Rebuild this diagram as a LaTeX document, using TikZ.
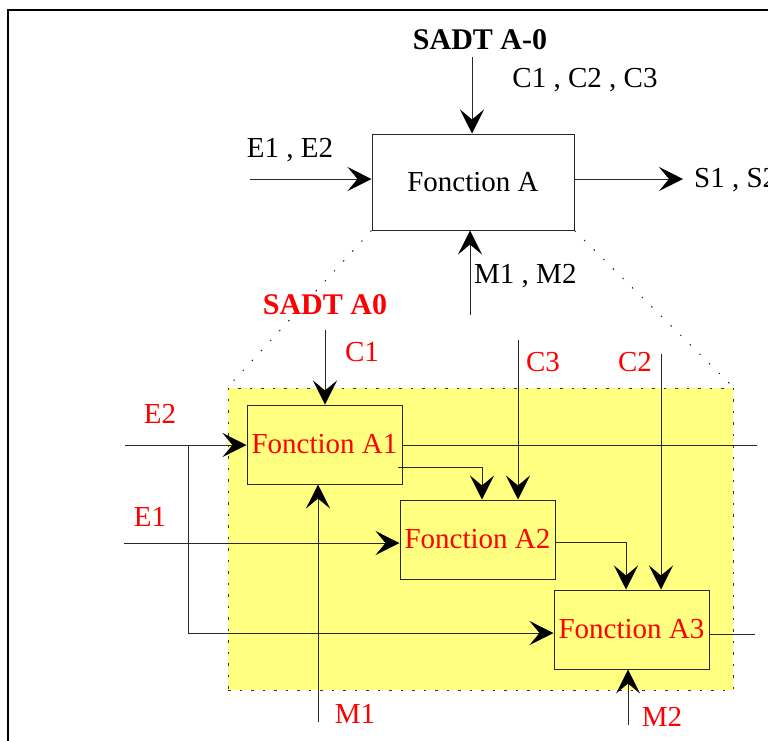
\documentclass[tikz,border=0pt]{standalone}
\usepackage{fontspec}
\setmainfont{Liberation Serif}
\usetikzlibrary{arrows.meta}
\definecolor{padyellow}{RGB}{255,255,128}
\definecolor{linegrey}{RGB}{40,40,40}
\begin{document}
\begin{tikzpicture}[x=1pt,y=-1pt,
  every node/.style={font=\fontsize{29}{31}\selectfont, inner sep=0pt},
  fbox/.style={draw=linegrey, line width=1pt, rectangle},
  bigbox/.style={fbox, minimum width=202pt, minimum height=96pt},
  subbox/.style={fbox, minimum width=155pt, minimum height=79pt, text=red},
  conn/.style={draw=linegrey, line width=1pt},
  arr/.style={conn, -{Stealth[length=24pt,width=24pt,inset=10pt,black]}},
  rlbl/.style={text=red},
  zoomline/.style={draw=black, line width=0.8pt, dash pattern=on 1.5pt off 12pt},
  pad/.style={fill=padyellow, draw=black!80, line width=1pt, dash pattern=on 2.5pt off 9pt, rectangle, minimum width=505pt, minimum height=302pt}]
\useasboundingbox (0,0) rectangle (768,740);

% outer frame
\draw[line width=2pt] (8,745) -- (8,10) -- (775,10);

% yellow detail area
\node[pad] (Y) at (480.5,539) {};

% top level
\node[bigbox] (A) at (473,182) {Fonction A};
\node[font=\fontsize{30}{32}\selectfont\bfseries] (t0) at (480,40) {SADT A-0};
\coordinate (cin) at (472,57);
\coordinate (ein) at (250,179);
\coordinate (sout) at (683,179);
\coordinate (min) at (470,315);
\draw[arr] (cin) -- (cin |- A.north);
\draw[arr] (ein) -- (ein -| A.west);
\draw[arr] (sout -| A.east) -- (sout);
\draw[arr] (min) -- (min |- A.south);
\node (lc) at (585,80) {C1 , C2 , C3};
\node (le) at (290,150) {E1 , E2};
\node[anchor=west] (ls) at (694,180) {S1 , S2};
\node[anchor=west] (lm) at (474,276) {M1 , M2};

% zoom lines
\draw[zoomline] (A.south west) -- (Y.north west);
\draw[zoomline] (A.south east) -- (Y.north east);

% detail level
\node[font=\fontsize{30}{32}\selectfont\bfseries, rlbl] (t1) at (325,305) {SADT A0};
\node[subbox] (A1) at (324.5,444.5) {Fonction A1};
\node[subbox] (A2) at (477.5,539.5) {Fonction A2};
\node[subbox] (A3) at (631.5,629.5) {Fonction A3};

\coordinate (c1) at (325,330);
\coordinate (c3) at (518,340);
\coordinate (c2) at (661,354);
\coordinate (e2) at (125,445);
\coordinate (e1) at (124,543);
\coordinate (split) at (188,445);
\coordinate (m1) at (318,722);
\coordinate (m2) at (628,725);
\coordinate (o1) at (757,445);
\coordinate (o3) at (755,634);
\coordinate (a1b) at (398,467);
\coordinate (a2in) at (482,500);
\coordinate (a2b) at (555,542);
\coordinate (a3in) at (626,590);
\coordinate (a3e) at (555,633);

\draw[arr] (c1) -- (c1 |- A1.north);
\draw[arr] (e2) -- (e2 -| A1.west);
\draw[conn] (split) -- (split |- a3e);
\draw[arr] (split |- a3e) -- (a3e -| A3.west);
\draw[arr] (e1) -- (e1 -| A2.west);
\draw[conn] (A1.east |- o1) -- (o1);
\draw[arr] (a1b) -| (a2in |- A2.north);
\draw[arr] (m1) -- (m1 |- A1.south);
\draw[arr] (c3) -- (c3 |- A2.north);
\draw[arr] (a2b -| A2.east) -| (a3in |- A3.north);
\draw[arr] (c2) -- (c2 |- A3.north);
\draw[conn] (A3.east |- o3) -- (o3);
\draw[arr] (m2) -- (m2 |- A3.south);

\node[rlbl] (lc1) at (362,352) {C1};
\node[rlbl] (lc3) at (543,362) {C3};
\node[rlbl] (lc2) at (635,362) {C2};
\node[rlbl] (le2) at (160,414) {E2};
\node[rlbl] (le1) at (150,517) {E1};
\node[rlbl] (lm1) at (355,714) {M1};
\node[rlbl] (lm2) at (662,717) {M2};
\end{tikzpicture}
\end{document}
